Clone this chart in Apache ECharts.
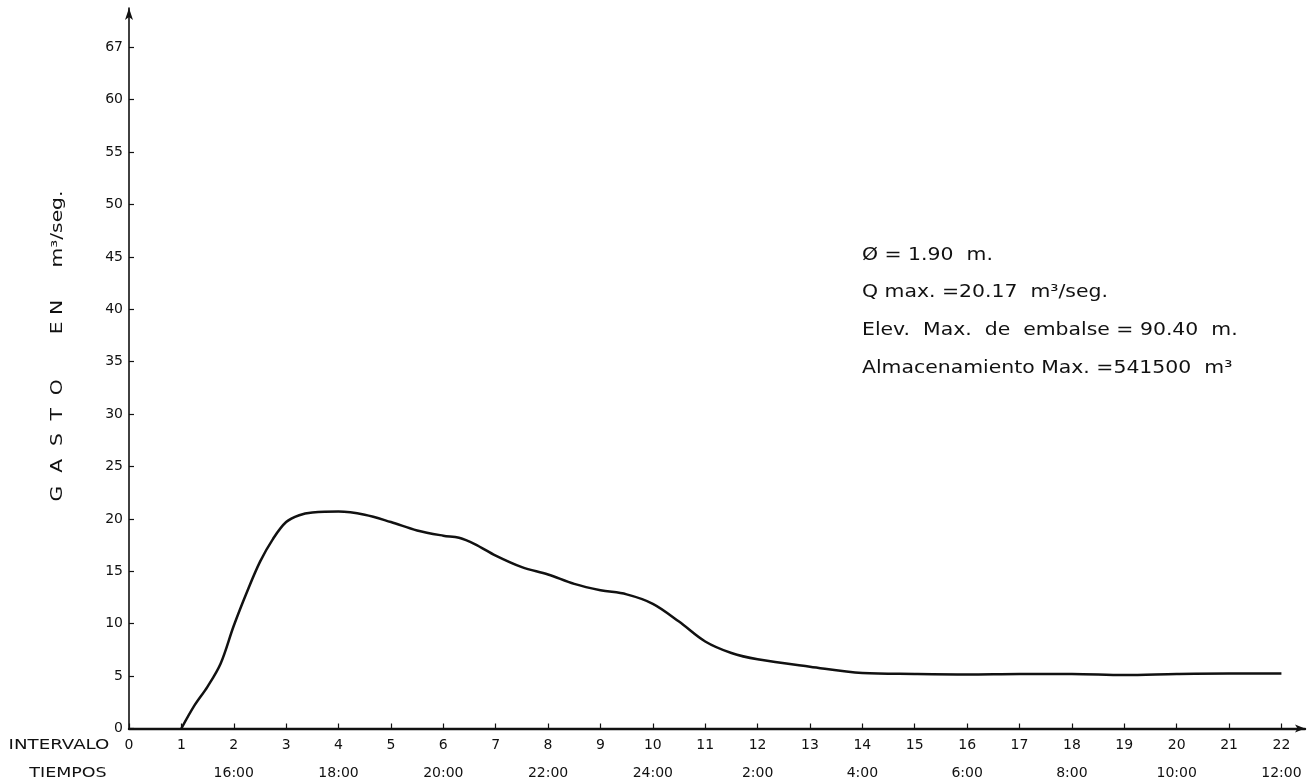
<!DOCTYPE html>
<html><head><meta charset="utf-8">
<script src="https://cdn.jsdelivr.net/npm/echarts@6/dist/echarts.min.js"></script>
<style>html,body{margin:0;padding:0;background:#fff}#c{width:1309px;height:783px}</style>
</head><body><div id="c"></div>
<script>
// Tick values and labels
const intervalTicks = [0,1,2,3,4,5,6,7,8,9,10,11,12,13,14,15,16,17,18,19,20,21,22];
const intervalLabels = ['0','1','2','3','4','5','6','7','8','9','10','11','12','13','14','15','16','17','18','19','20','21','22'];
const timeLabels = ['','','16:00','','18:00','','20:00','','22:00','','24:00','','2:00','','4:00','','6:00','','8:00','','10:00','','12:00'];
const yTickValues = [0,5,10,15,20,25,30,35,40,45,50,55,60,65];
const yTickLabels = ['0','5','10','15','20','25','30','35','40','45','50','55','60','67'];

// Hydrograph readings (intervalo, gasto m3/seg); flow is zero on the axis before interval 1
const flowX = [1,1.25,1.5,1.75,2,2.25,2.5,2.75,3,3.25,3.5,4,4.5,5,5.5,6,6.3,6.6,7,7.5,8,8.5,9,9.5,10,10.5,11,11.5,12,13,14,15,16,17,18,19,20,21,22];
const flowY = [0,2.2,4.0,6.2,9.8,13.0,15.9,18.1,19.7,20.35,20.6,20.7,20.4,19.7,18.9,18.4,18.2,17.6,16.5,15.4,14.7,13.8,13.2,12.8,11.9,10.2,8.3,7.2,6.6,5.9,5.3,5.2,5.15,5.2,5.2,5.1,5.2,5.25,5.25];

// Texts
const notes = ['Ø = 1.90  m.', 'Q max. =20.17  m³/seg.', 'Elev.  Max.  de  embalse = 90.40  m.', 'Almacenamiento Max. =541500  m³'];
const yName = 'G  A  S  T  O       E N     m³/seg.';
const xNames = ['INTERVALO', 'TIEMPOS'];

const FONT = 'DejaVu Sans';
const chart = echarts.init(document.getElementById('c'), null, {renderer: 'canvas'});

const noteTops = [256, 293, 331, 369];
const graphics = notes.map((t, i) => ({
  type: 'text', x: 862, y: noteTops[i], scaleX: 1.2,
  style: {text: t, fontFamily: FONT, fontSize: 17, fill: '#111', verticalAlign: 'middle', align: 'left'}
}));
graphics.push({
  type: 'text', x: 58, y: 346, rotation: Math.PI / 2, scaleX: 1.35,
  style: {text: yName, fontFamily: FONT, fontSize: 15, fill: '#111', verticalAlign: 'middle', align: 'center'}
});
graphics.push({
  type: 'text', x: 59, y: 745, scaleX: 1.3,
  style: {text: xNames[0], fontFamily: FONT, fontSize: 14, fill: '#111', verticalAlign: 'middle', align: 'center'}
});
graphics.push({
  type: 'text', x: 68, y: 773, scaleX: 1.25,
  style: {text: xNames[1], fontFamily: FONT, fontSize: 14, fill: '#111', verticalAlign: 'middle', align: 'center'}
});

chart.setOption({
  backgroundColor: '#ffffff',
  animation: false,
  grid: {left: 129, right: 4, top: 8, bottom: 54.5, containLabel: false, outerBoundsMode: 'none'},
  xAxis: {
    type: 'value', min: 0, max: 22.45,
    axisLine: {show: true, lineStyle: {color: '#111', width: 2.4}, symbol: ['none', 'arrow'], symbolSize: [6, 10]},
    axisTick: {show: true, inside: true, length: 5, lineStyle: {color: '#111', width: 1.2}, customValues: intervalTicks},
    axisLabel: {
      customValues: intervalTicks, margin: 3, fontFamily: FONT, fontSize: 14, color: '#111', lineHeight: 28,
      formatter: v => { const i = intervalTicks.indexOf(v); return intervalLabels[i] + '\n' + (timeLabels[i] || ' '); }
    },
    splitLine: {show: false}
  },
  yAxis: {
    type: 'value', min: 0, max: 68.75,
    axisLine: {show: true, lineStyle: {color: '#111', width: 1.6}, symbol: ['none', 'arrow'], symbolSize: [6, 12]},
    axisTick: {show: true, inside: true, length: 5, lineStyle: {color: '#111', width: 1.2}, customValues: yTickValues},
    axisLabel: {
      customValues: yTickValues, margin: 6, fontFamily: FONT, fontSize: 14, color: '#111',
      formatter: v => yTickLabels[yTickValues.indexOf(v)]
    },
    splitLine: {show: false}
  },
  graphic: graphics,
  series: [{
    type: 'line',
    data: flowX.map((x, i) => [x, flowY[i]]),
    smooth: 0.35,
    showSymbol: false,
    lineStyle: {color: '#111', width: 2.5}
  }]
});
</script>
</body></html>
